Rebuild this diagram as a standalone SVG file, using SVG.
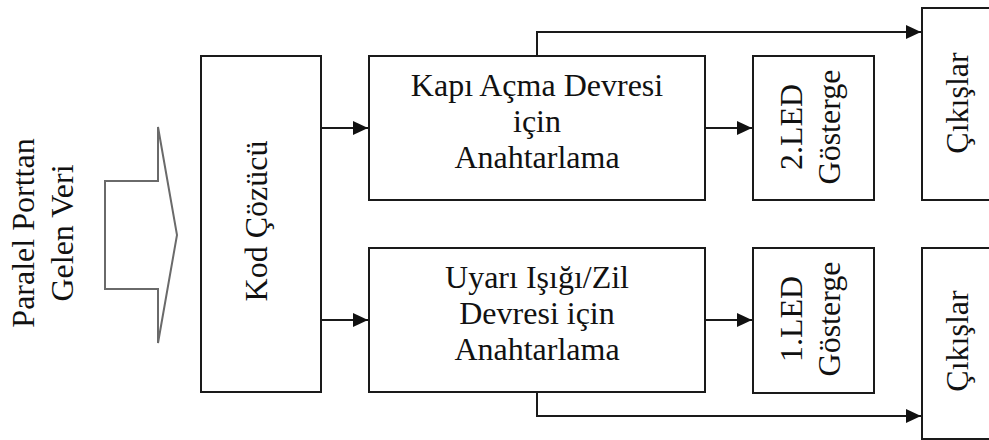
<svg xmlns="http://www.w3.org/2000/svg" width="989" height="440" viewBox="0 0 989 440">
  <style>
    .box { fill: none; stroke: #1a1a1a; stroke-width: 2; }
    .wire { fill: none; stroke: #1a1a1a; stroke-width: 2; }
    .lbl { font-family: "Liberation Serif", "Times New Roman", serif; font-size: 32px; fill: #111; text-anchor: middle; }
  </style>
  <defs>
    <marker id="head" markerWidth="16" markerHeight="14" refX="15" refY="7" orient="auto" markerUnits="userSpaceOnUse">
      <path d="M0,0 L15,7 L0,14 Z" fill="#111"/>
    </marker>
  </defs>
  <rect width="989" height="440" fill="#fff"/>

  <!-- incoming parallel port data -->
  <g id="input">
    <path d="M105,181 H158 V127 L177,235 L158,343 V289 H105 Z" fill="none" stroke="#6a6a6a" stroke-width="2"/>
    <text class="lbl" transform="translate(34,233) rotate(-90)">Paralel Porttan</text>
    <text class="lbl" transform="translate(73,233) rotate(-90)">Gelen Veri</text>
  </g>

  <g id="decoder">
    <rect class="box" x="201" y="56" width="120" height="336"/>
    <text class="lbl" transform="translate(267,221) rotate(-90)">Kod Çözücü</text>
  </g>

  <g id="door-switch">
    <rect class="box" x="369" y="56" width="336" height="144"/>
    <text class="lbl" x="537" y="96">Kapı Açma Devresi</text>
    <text class="lbl" x="537" y="132">için</text>
    <text class="lbl" x="537" y="168">Anahtarlama</text>
  </g>

  <g id="alarm-switch">
    <rect class="box" x="369" y="248" width="336" height="144"/>
    <text class="lbl" x="537" y="288">Uyarı Işığı/Zil</text>
    <text class="lbl" x="537" y="324">Devresi için</text>
    <text class="lbl" x="537" y="360">Anahtarlama</text>
  </g>

  <g id="led2">
    <rect class="box" x="753" y="56" width="121" height="144"/>
    <text class="lbl" transform="translate(802,127) rotate(-90)">2.LED</text>
    <text class="lbl" transform="translate(840,127) rotate(-90)">Gösterge</text>
  </g>

  <g id="led1">
    <rect class="box" x="753" y="248" width="121" height="145"/>
    <text class="lbl" transform="translate(802,319) rotate(-90)">1.LED</text>
    <text class="lbl" transform="translate(840,319) rotate(-90)">Gösterge</text>
  </g>

  <g id="out-top">
    <rect class="box" x="922" y="8" width="80" height="192"/>
    <text class="lbl" transform="translate(968,103) rotate(-90)">Çıkışlar</text>
  </g>

  <g id="out-bottom">
    <rect class="box" x="922" y="248" width="80" height="191"/>
    <text class="lbl" transform="translate(968,341) rotate(-90)">Çıkışlar</text>
  </g>

  <g id="connectors">
    <line class="wire" x1="321" y1="128" x2="368" y2="128" marker-end="url(#head)"/>
    <line class="wire" x1="321" y1="320" x2="368" y2="320" marker-end="url(#head)"/>
    <line class="wire" x1="705" y1="128" x2="752" y2="128" marker-end="url(#head)"/>
    <line class="wire" x1="705" y1="320" x2="752" y2="320" marker-end="url(#head)"/>
    <polyline class="wire" points="537,56 537,32 921,32" marker-end="url(#head)"/>
    <polyline class="wire" points="537,392 537,416 921,416" marker-end="url(#head)"/>
  </g>
</svg>
